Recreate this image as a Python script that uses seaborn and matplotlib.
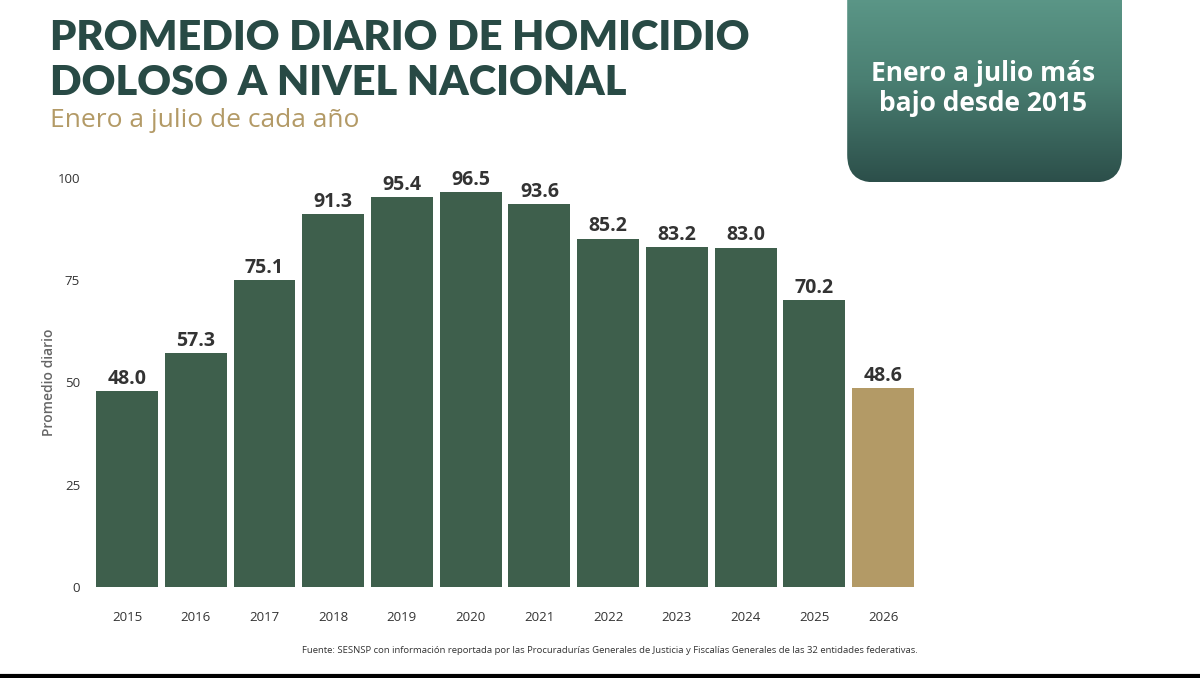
import numpy as np
import pandas as pd
import matplotlib.pyplot as plt
import seaborn as sns
from matplotlib.patches import FancyBboxPatch
from matplotlib.lines import Line2D

# data
years = ['2015', '2016', '2017', '2018', '2019', '2020',
         '2021', '2022', '2023', '2024', '2025', '2026']
promedio = [48.0, 57.3, 75.1, 91.3, 95.4, 96.5,
            93.6, 85.2, 83.2, 83.0, 70.2, 48.6]
y_ticks = [0, 25, 50, 75, 100]

GREEN = '#3e5f4c'
GOLD = '#b39a66'
TITLE = '#284a45'

sns.set_theme(style='white')
plt.rcParams['font.family'] = ['Open Sans', 'DejaVu Sans']

df = pd.DataFrame({'year': years, 'value': promedio})
colors = [GREEN] * (len(years) - 1) + [GOLD]

fig = plt.figure(figsize=(12, 6.78), dpi=100)
ax = fig.add_axes([0.0772, 0.1342, 0.6873, 0.6033])

sns.barplot(data=df, x='year', y='value', hue='year', palette=colors,
            legend=False, width=0.9, saturation=1, linewidth=0, ax=ax)

for i, v in enumerate(promedio):
    ax.text(i, v + 0.5, f'{v:.1f}', ha='center', va='bottom',
            fontsize=14, fontweight='bold', color='#333333', clip_on=False)

ax.set_xlim(-0.5, 11.5)
ax.set_ylim(0, 100)
ax.set_yticks(y_ticks)
ax.tick_params(axis='both', length=0, labelsize=9.5, colors='#333333')
ax.tick_params(axis='x', pad=17)
ax.tick_params(axis='y', pad=9)
ax.set_xlabel('')
ax.set_ylabel('Promedio diario', fontsize=10, color='#666666',
              fontweight='semibold', labelpad=1)
sns.despine(ax=ax, left=True, bottom=True)

# titles
fig.text(0.042, 0.926, 'PROMEDIO DIARIO DE HOMICIDIO', fontsize=30,
         fontweight='heavy', family=['Lato', 'DejaVu Sans'], color=TITLE,
         va='baseline')
fig.text(0.042, 0.860, 'DOLOSO A NIVEL NACIONAL', fontsize=30,
         fontweight='heavy', family=['Lato', 'DejaVu Sans'], color=TITLE,
         va='baseline')
fig.text(0.042, 0.812, 'Enero a julio de cada año', fontsize=19,
         color=GOLD, va='baseline')

# highlight box (top cut off by the slide edge)
box_ax = fig.add_axes([0.706, 0.731, 0.229, 0.30])
box_ax.set_xlim(0, 1)
box_ax.set_ylim(0, 1)
box_ax.axis('off')
grad = np.linspace(0, 1, 256).reshape(-1, 1)
img = box_ax.imshow(grad, extent=[0, 1, 0, 1], aspect='auto',
                    cmap=sns.blend_palette(['#5f9c8c', '#4a7f72', '#2c4f4a'],
                                           as_cmap=True))
clip = FancyBboxPatch((0, 0), 1, 1.3, boxstyle='round,pad=0,rounding_size=0.1',
                      transform=box_ax.transAxes, facecolor='none',
                      edgecolor='none', mutation_aspect=1.35)
box_ax.add_patch(clip)
img.set_clip_path(clip)
fig.text(0.8195, 0.870, 'Enero a julio más\nbajo desde 2015', ha='center',
         va='center', fontsize=19, fontweight='bold', color='white',
         linespacing=1.15)

# source note
fig.text(0.5085, 0.04, 'Fuente: SESNSP con información reportada por las '
         'Procuradurías Generales de Justicia y Fiscalías Generales de las 32 '
         'entidades federativas.', ha='center', va='center', fontsize=6.8,
         color='#333333')

# screen border at the bottom
fig.add_artist(Line2D([0, 1], [0.003, 0.003], transform=fig.transFigure,
                      color='black', linewidth=3))

fig.savefig('out.png', dpi=100)
